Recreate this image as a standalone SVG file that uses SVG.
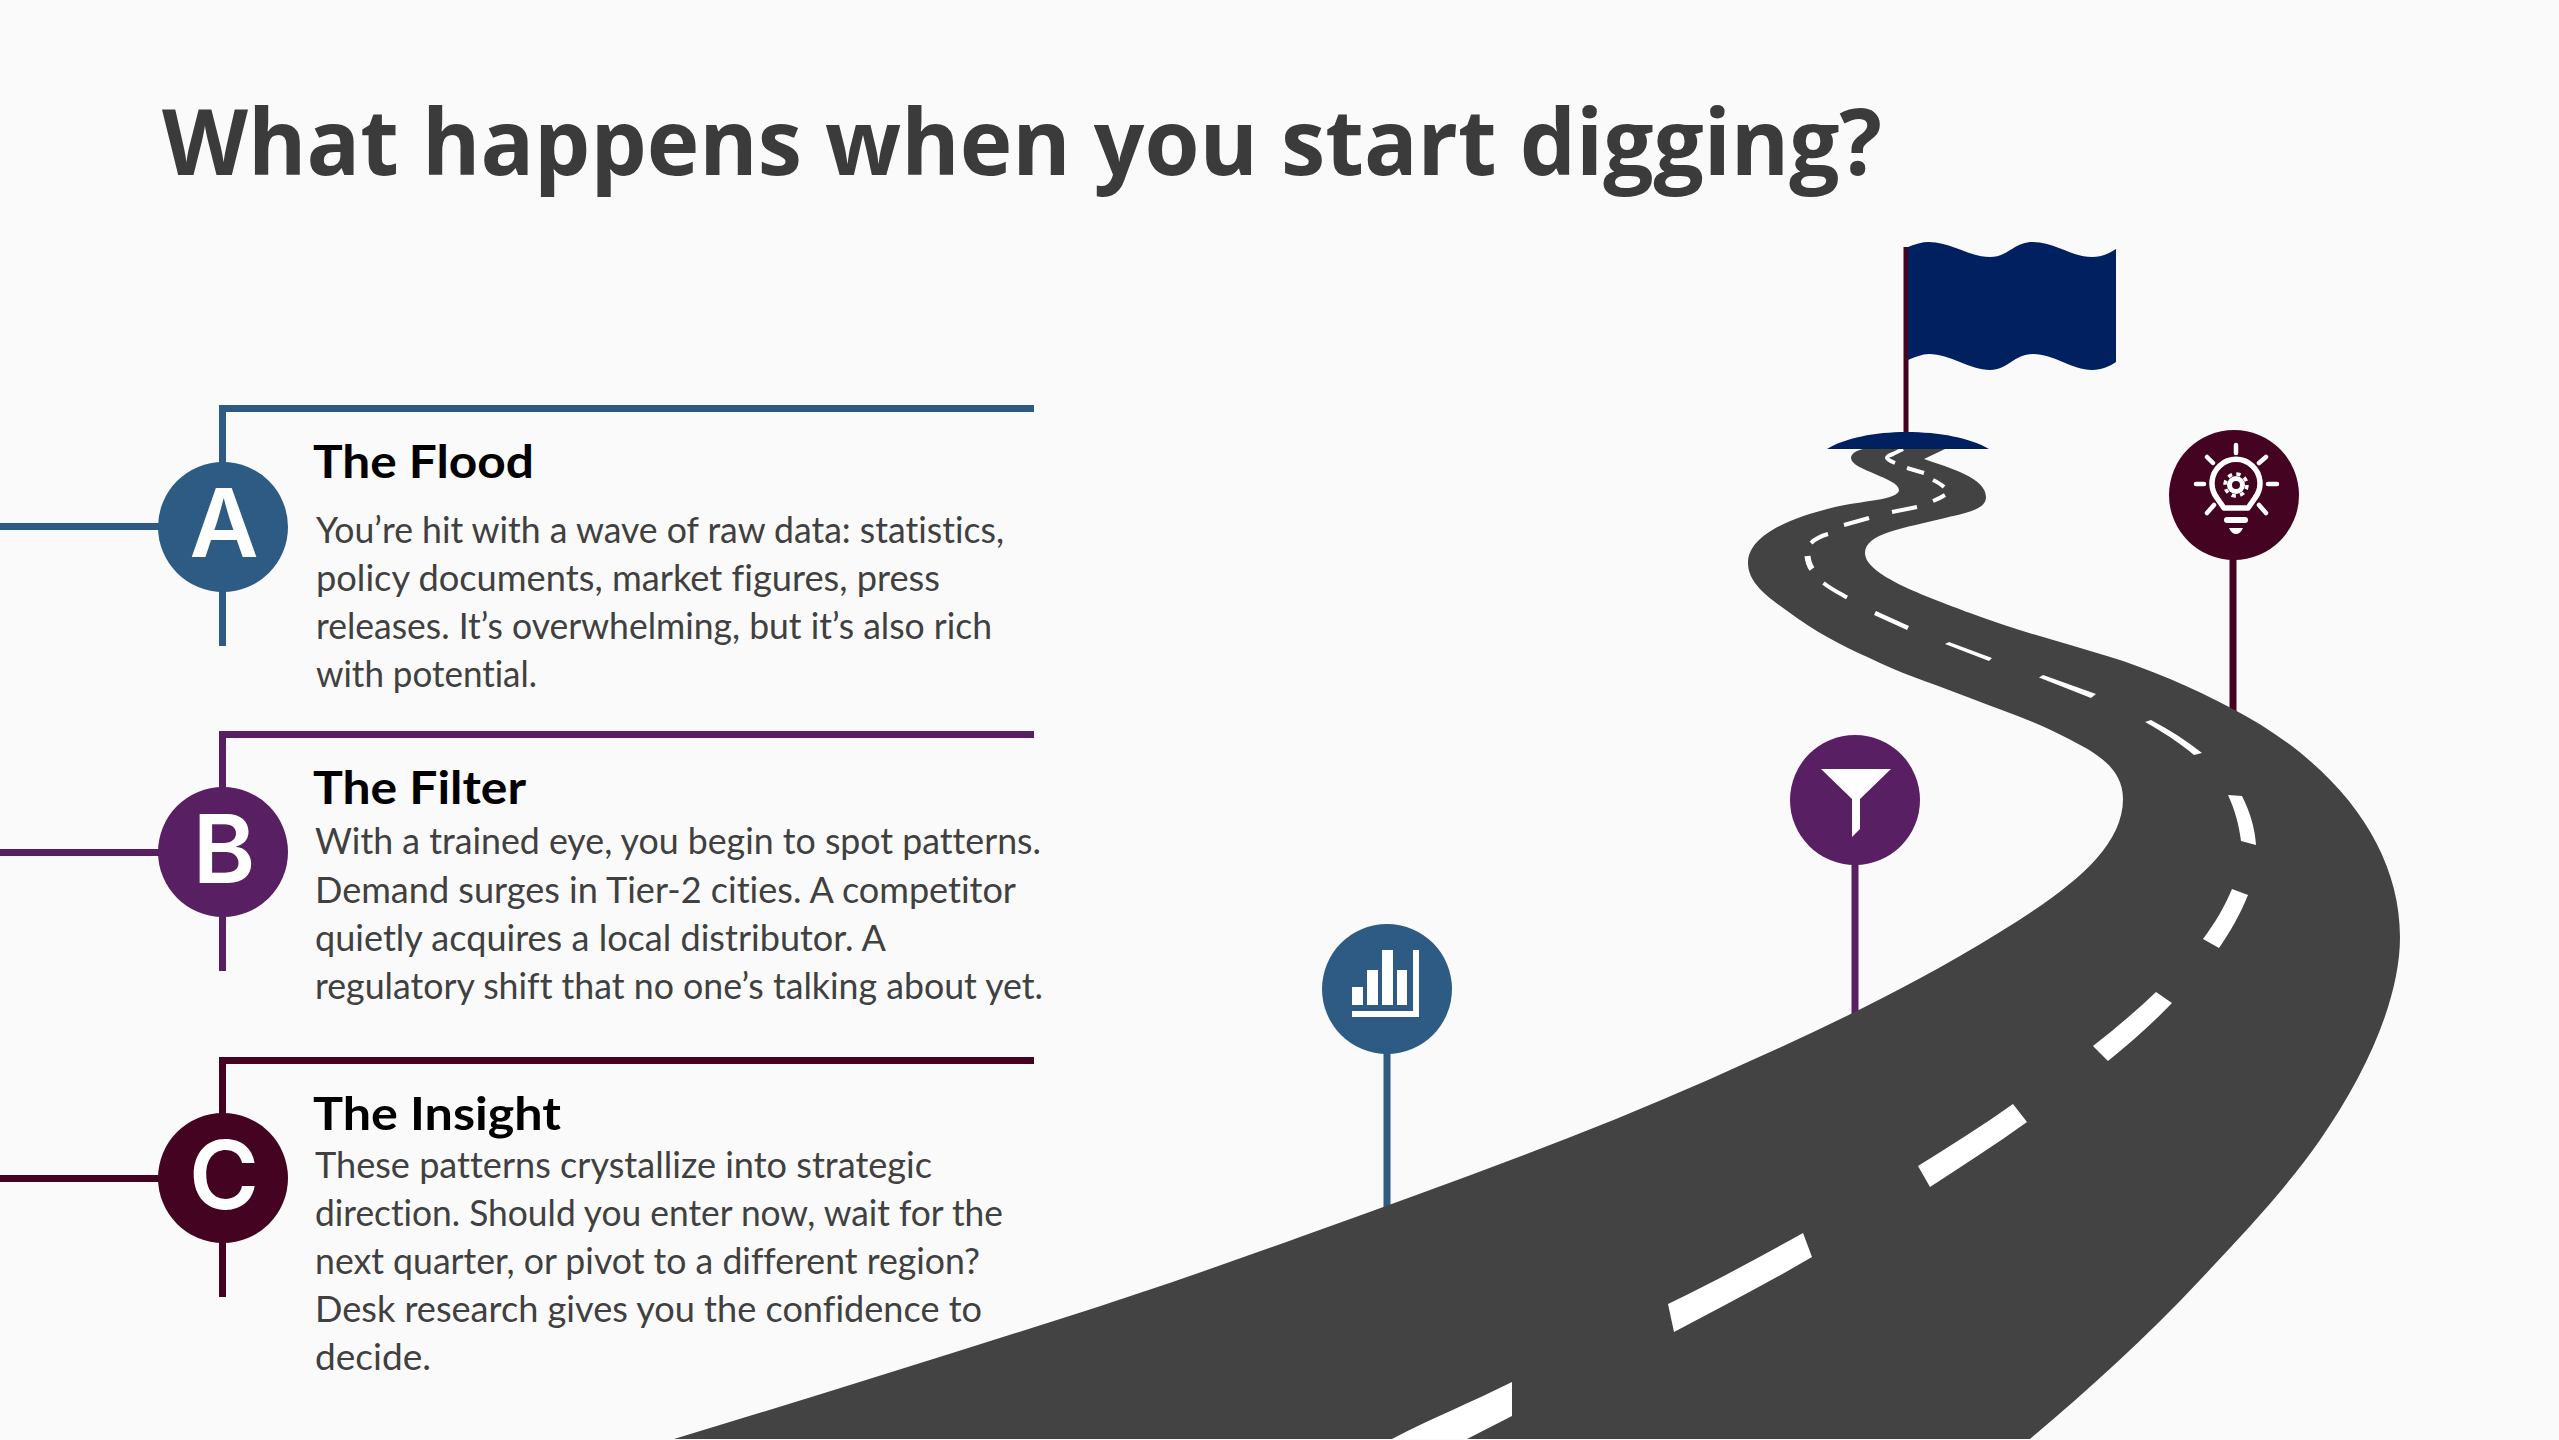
<svg xmlns="http://www.w3.org/2000/svg" width="2559" height="1440" viewBox="0 0 2559 1440">
<defs>
<style>
.title{font-family:"Open Sans","Liberation Sans",sans-serif;font-weight:700;font-size:92px;fill:#3b3b3b}
.head{font-family:Lato,"Liberation Sans",sans-serif;font-weight:700;font-size:46px;fill:#000;font-variant-ligatures:none}
.body{font-family:Lato,"Liberation Sans",sans-serif;font-weight:400;font-size:36px;fill:#404040;font-variant-ligatures:none}
.letter{font-family:Inter,"Liberation Sans",sans-serif;font-weight:600;font-size:95px;fill:#fff;text-anchor:middle}
.conn{fill:none;stroke-width:7}
.dash{fill:#fff}
.thin{fill:none;stroke:#fff;stroke-width:4}
.ray{fill:none;stroke:#fff;stroke-width:4.500;stroke-linecap:round}
.blue{fill:#2e5b84}.pur{fill:#581f62}.mar{fill:#440320}
.sblue{stroke:#2e5b84}.spur{stroke:#581f62}.smar{stroke:#440320}
</style>
</defs>
<rect width="2559" height="1440" fill="#fafafa"/>
<text class="title" x="162" y="175" textLength="1720" lengthAdjust="spacingAndGlyphs">What happens when you start digging?</text>
<g id="connectors">
<path class="conn sblue" d="M1034,408.500H222.500V646M0,526.500H170"/>
<path class="conn spur" d="M1034,734.500H222.500V971M0,852.500H170"/>
<path class="conn smar" d="M1034,1060.500H222.500V1297M0,1178.500H170"/>
<path class="conn sblue" d="M1387,1040V1212"/>
<path class="conn spur" d="M1855,850V1016"/>
<path class="conn smar" d="M2233,545V712"/>
<path class="conn smar" style="stroke-width:5" d="M1906,247V436"/>
</g>
<g id="road">
<path fill="#434343" d="M674,1439C803,1400 931,1360 1060,1319C1140,1293.600 1220,1266 1300,1237C1436,1188 1572,1140 1708,1080C1805,1037 1903,992 2000,932C2065,892 2123,850 2123,799C2123,765 2090,750 2065,737C2035,721 2003,711 1970,698C1940,686 1910,677 1880,663C1850,649 1825,638 1797,618C1772,600 1748,585 1748,563C1748,535 1790,518 1835,507C1860,501 1899,500 1899,490C1899,478 1851,470 1851,458C1851,453 1858,450 1863,449L1945,449L1924,459C1950,468 1986,478 1986,497C1986,510 1965,513 1945,518C1905,528 1865,533 1865,553C1865,575 1925,596 1970,613C2015,630 2061,642 2107,656C2150,669 2191,687 2231,708C2335,762 2400,845 2400,937C2400,1000 2365,1075 2320,1140C2285,1190 2245,1232 2200,1280C2145,1339 2088,1390 2030,1439Z"/>
<path class="dash" d="M1512,1382L1512,1416L1467,1439H1392C1432,1418 1472,1402 1512,1382Z"/>
<path class="dash" d="M1803,1233L1812,1257C1766,1284 1720,1308 1674,1332L1668,1304C1714,1282 1758,1258 1803,1233Z"/>
<path class="dash" d="M2013,1104L2027,1122C1995,1145 1962,1166 1930,1187L1918,1166C1950,1146 1982,1126 2013,1104Z"/>
<path class="dash" d="M2156,992L2172,1003C2152,1024 2130,1043 2108,1061L2093,1046C2115,1029 2136,1011 2156,992Z"/>
<path class="dash" d="M2232,889L2248,895C2240,915 2230,932 2219,948L2203,939C2215,923 2225,906 2232,889Z"/>
<path class="dash" d="M2228,795L2242,796C2250,812 2255,828 2256,845L2241,841C2239,825 2235,810 2228,795Z"/>
<path class="dash" d="M2145,722L2151,720C2170,730 2187,741 2202,753L2194,755C2180,743 2163,732 2145,722Z"/>
<path class="dash" d="M2039,677.500L2043,675L2096,694L2091,698Z"/>
<path class="dash" d="M1945,644L1949,642L1992,658L1989,661Z"/>
<path class="thin" style="stroke-width:4.500" d="M1875,613L1908,628"/>
<path class="thin" d="M1823.500,583C1831,589 1839,593 1847,597.500"/>
<path class="thin" style="stroke-width:6" d="M1807.500,556C1808,561 1809,565 1812,569"/>
<path class="thin" d="M1811,543C1815,539 1821,536 1828,534"/>
<path class="thin" d="M1844,525L1869,518"/>
<path class="thin" d="M1892,512L1917,507"/>
<path class="thin" d="M1933,501C1938,499 1942,497 1945,495"/>
<path class="thin" d="M1944,487C1941,484 1937,482 1933,480"/>
<path class="thin" d="M1924,473L1907,468"/>
<path class="thin" d="M1895,463C1890,461 1887,459 1887,458C1887,456 1890,455 1893,454L1903,449"/>
</g>
<g id="flag">
<path fill="#002060" d="M1827,449C1845,438 1875,432 1906,432C1940,432 1970,438 1989,449Z"/>
<path fill="#002060" d="M1908,247C1915,244 1922,242 1929,242C1950,242 1970,257 1990,257C2008,257 2014,242 2033,242C2054,242 2072,257 2092,257C2102,257 2110,253 2116,249V362C2110,366 2102,370 2092,370C2072,370 2054,354 2033,354C2014,354 2008,370 1990,370C1970,370 1950,354 1929,354C1922,354 1915,357 1908,360Z"/>
</g>
<g id="node-a">
<circle class="blue" cx="223" cy="527" r="65"/>
<text class="letter" x="224" y="557">A</text>
<text class="head" x="313" y="478" textLength="221" lengthAdjust="spacingAndGlyphs">The Flood</text>
<text class="body" x="316" y="543" textLength="688" lengthAdjust="spacingAndGlyphs">You’re hit with a wave of raw data: statistics,</text>
<text class="body" x="316" y="591" textLength="624" lengthAdjust="spacingAndGlyphs">policy documents, market figures, press</text>
<text class="body" x="316" y="639" textLength="676" lengthAdjust="spacingAndGlyphs">releases. It’s overwhelming, but it’s also rich</text>
<text class="body" x="316" y="687" textLength="221" lengthAdjust="spacingAndGlyphs">with potential.</text>
</g>
<g id="node-b">
<circle class="pur" cx="223" cy="852" r="65"/>
<text class="letter" x="224" y="883">B</text>
<text class="head" x="313" y="804" textLength="213" lengthAdjust="spacingAndGlyphs">The Filter</text>
<text class="body" x="315" y="854" textLength="726" lengthAdjust="spacingAndGlyphs">With a trained eye, you begin to spot patterns.</text>
<text class="body" x="315" y="902.500" textLength="701" lengthAdjust="spacingAndGlyphs">Demand surges in Tier-2 cities. A competitor</text>
<text class="body" x="315" y="951" textLength="571" lengthAdjust="spacingAndGlyphs">quietly acquires a local distributor. A</text>
<text class="body" x="315" y="999" textLength="728" lengthAdjust="spacingAndGlyphs">regulatory shift that no one’s talking about yet.</text>
</g>
<g id="node-c">
<circle class="mar" cx="223" cy="1178" r="65"/>
<text class="letter" x="224" y="1209">C</text>
<text class="head" x="313" y="1130" textLength="248" lengthAdjust="spacingAndGlyphs">The Insight</text>
<text class="body" x="315" y="1178" textLength="617" lengthAdjust="spacingAndGlyphs">These patterns crystallize into strategic</text>
<text class="body" x="315" y="1226" textLength="688" lengthAdjust="spacingAndGlyphs">direction. Should you enter now, wait for the</text>
<text class="body" x="315" y="1274" textLength="665" lengthAdjust="spacingAndGlyphs">next quarter, or pivot to a different region?</text>
<text class="body" x="315" y="1322" textLength="667" lengthAdjust="spacingAndGlyphs">Desk research gives you the confidence to</text>
<text class="body" x="315" y="1370" textLength="116" lengthAdjust="spacingAndGlyphs">decide.</text>
</g>
<g id="pin-chart">
<circle class="blue" cx="1387" cy="989" r="65"/>
<path fill="#fff" d="M1352,987h11v18h-11zM1367,970h11v35h-11zM1382,950h11v55h-11zM1397,970h10v35h-10zM1413,950h6v67h-67v-6h61z"/>
</g>
<g id="pin-funnel">
<circle class="pur" cx="1855" cy="800" r="65"/>
<path fill="#fff" d="M1821,769H1891L1860,799V829L1852,837V799Z"/>
</g>
<g id="pin-bulb">
<circle class="mar" cx="2234" cy="495" r="65"/>
<path class="ray" d="M2236,445V453M2207,457L2213,463M2266,457L2259,463M2196,484H2204M2268,484H2277M2207,513L2214,505M2266,513L2259,505"/>
<path fill="none" stroke="#fff" stroke-width="5.500" stroke-linejoin="round" d="M2224,508L2217,498A24,24 0 1 1 2255,498L2248,508Z"/>
<rect x="2224" y="517" width="24" height="6" rx="3" fill="#fff"/>
<path fill="#fff" d="M2229,528H2243C2241,532 2239,534 2236,534C2233,534 2231,532 2229,528Z"/>
<circle cx="2236" cy="485" r="9" fill="#fff"/>
<circle cx="2236" cy="485" r="11" fill="none" stroke="#fff" stroke-width="3.500" stroke-dasharray="4.320 4.320"/>
<circle cx="2236" cy="485" r="4" class="mar"/>
</g>
</svg>
